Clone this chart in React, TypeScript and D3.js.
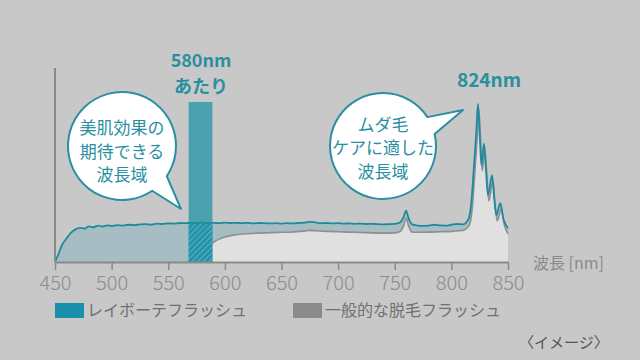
import React, {useEffect, useRef} from 'react'
import * as d3 from 'd3'

// teal line (レイボーテフラッシュ) — wavelength / relative intensity
const tealNm = [
  450, 453, 456, 460, 464, 468, 472, 476, 480, 484, 488, 492, 496, 500, 505, 510, 515, 520, 525, 530,
  535, 540, 545, 550, 555, 560, 565, 570, 575, 580, 585, 590, 595, 600, 605, 610, 615, 620, 625, 630,
  635, 640, 645, 650, 655, 660, 665, 670, 675, 680, 685, 690, 695, 700, 705, 710, 715, 720, 725, 730,
  735, 740, 745, 750, 755, 758, 760, 762, 765, 770, 775, 780, 785, 790, 795, 800, 805, 810, 815, 817.5,
  820, 822, 823.5, 825, 826.5, 828.8, 830.5, 832.3, 835.9, 837.8, 839.7, 843.2, 846, 850,
]
const tealVal = [
  0, 4, 8.5, 12, 15, 16.8, 17.6, 17.2, 18.4, 17.9, 18.8, 18.3, 18.9, 18.6, 19.0, 18.8, 19.2, 19.0, 19.4, 19.5,
  19.3, 19.8, 19.6, 19.9, 19.8, 20.1, 20.0, 20.2, 20.0, 20.3, 20.1, 20.2, 20.0, 20.3, 20.1, 20.2, 20.0, 20.2, 19.9, 20.1,
  20.0, 19.9, 20.0, 19.8, 20.0, 19.9, 20.1, 20.3, 20.7, 20.4, 20.0, 20.1, 19.9, 20.0, 19.8, 19.9, 19.7, 19.8, 19.6, 19.7,
  19.5, 19.4, 19.5, 19.6, 20.5, 23.5, 26.5, 23, 19.5, 18.8, 18.6, 18.7, 19.2, 18.9, 18.7, 19.2, 19.6, 19.4, 22, 30,
  50, 67, 81.5, 66, 50, 61, 48, 34.5, 44.8, 33, 24.2, 30.3, 22, 17.5,
]

// gray line (一般的な脱毛フラッシュ)
const grayNm = [
  575, 578, 582, 586, 590, 595, 600, 605, 610, 620, 630, 640, 650, 660, 670, 675, 680, 690, 700, 710,
  720, 730, 740, 750, 755, 758, 760, 762, 765, 770, 780, 790, 800, 810, 815.8, 818.3, 820.8, 822.8, 824.3, 825.8,
  827.3, 829.6, 831.3, 833.1, 836.7, 838.6, 840.5, 844, 846.8, 850,
]
const grayVal = [
  0, 3.2, 6.3, 8.6, 10.2, 11.8, 12.9, 13.6, 14.1, 14.6, 14.9, 15.1, 15.3, 15.5, 15.9, 16.3, 16.1, 15.8, 15.6, 15.4,
  15.2, 15.0, 14.9, 15.0, 15.8, 19, 22.5, 19, 15.5, 15.3, 15.4, 15.6, 15.8, 16.2, 19, 27, 47, 64, 78.5, 63,
  47, 58, 45, 31.5, 41.8, 30, 21.2, 27.3, 19, 14.5,
]

const xTicks = [450, 500, 550, 600, 650, 700, 750, 800, 850]
const band = [568, 589]
const legendLabels = ['レイボーテフラッシュ', '一般的な脱毛フラッシュ']

const FONT = '"Noto Sans CJK JP", "Noto Sans", sans-serif'
const TEAL = '#2a8fa1'

export default function App() {
  const ref = useRef<SVGSVGElement>(null)

  useEffect(() => {
    const svg = d3.select(ref.current)
    svg.selectAll('*').remove()

    const x = d3.scaleLinear().domain([450, 850]).range([55, 508])
    const y = d3.scaleLinear().domain([0, 100]).range([262, 68])

    const teal = tealNm.map((n, i) => [n, tealVal[i]] as [number, number])
    const gray = grayNm.map((n, i) => [n, grayVal[i]] as [number, number])

    const area = d3
      .area<[number, number]>()
      .x((d) => x(d[0]))
      .y0(y(0))
      .y1((d) => y(d[1]))
      .curve(d3.curveMonotoneX)
    const line = d3
      .line<[number, number]>()
      .x((d) => x(d[0]))
      .y((d) => y(d[1]))
      .curve(d3.curveMonotoneX)

    svg.append('rect').attr('width', 640).attr('height', 360).attr('fill', '#c8c8c8')

    const defs = svg.append('defs')
    defs.append('clipPath').attr('id', 'tealClip').append('path').attr('d', area(teal))
    const pat = defs
      .append('pattern')
      .attr('id', 'hatch')
      .attr('patternUnits', 'userSpaceOnUse')
      .attr('width', 4)
      .attr('height', 4)
      .attr('patternTransform', 'rotate(45)')
    pat.append('rect').attr('width', 4).attr('height', 4).attr('fill', '#2191a8')
    pat.append('rect').attr('width', 1.2).attr('height', 4).attr('fill', '#5aaebe')

    // areas
    svg.append('path').attr('d', area(teal)).attr('fill', '#a6bdc3')
    svg.append('path').attr('d', area(gray)).attr('fill', '#e0e0e0')
    svg.append('path').attr('d', line(gray)).attr('fill', 'none').attr('stroke', '#8f8f8f').attr('stroke-width', 1.6)

    // 580nm band
    const bandRect = () =>
      svg
        .append('rect')
        .attr('x', x(band[0]))
        .attr('width', x(band[1]) - x(band[0]))
        .attr('y', 102)
        .attr('height', y(0) - 102)
    bandRect().attr('fill', '#4ba1b0')
    bandRect().attr('fill', 'url(#hatch)').attr('clip-path', 'url(#tealClip)')

    svg.append('path').attr('d', line(teal)).attr('fill', 'none').attr('stroke', '#1f8a9e').attr('stroke-width', 1.8)

    // axes
    const axis = svg
      .append('g')
      .attr('transform', `translate(0,${y(0)})`)
      .call(d3.axisBottom(x).tickValues(xTicks).tickSize(8).tickSizeOuter(0).tickPadding(6).tickFormat(d3.format('d')))
    axis.select('.domain').attr('stroke', '#8a8a8a').attr('stroke-width', 2)
    axis.selectAll('.tick line').attr('stroke', '#8a8a8a').attr('stroke-width', 1.5)
    axis
      .selectAll('.tick text')
      .attr('fill', '#8c8c8c')
      .style('font-family', FONT)
      .style('font-size', '20px')
      .style('font-weight', 300)
    svg.append('line').attr('x1', x(450)).attr('x2', x(450)).attr('y1', 68).attr('y2', y(0)).attr('stroke', '#8a8a8a').attr('stroke-width', 2)

    svg
      .append('text')
      .attr('x', 533)
      .attr('y', 269)
      .attr('fill', '#8a8a8a')
      .style('font-family', FONT)
      .style('font-size', '16px')
      .text('波長 [nm]')

    // multi-line text helper
    const multi = (tx: number, ys: number[], lines: string[], size: number, weight: number) => {
      const t = svg
        .append('text')
        .attr('text-anchor', 'middle')
        .attr('fill', TEAL)
        .style('font-family', FONT)
        .style('font-size', `${size}px`)
        .style('font-weight', weight)
      lines.forEach((s, i) => {
        t.append('tspan').attr('x', tx).attr('y', ys[i]).text(s)
      })
    }

    // peak labels
    multi(201, [67, 93], ['580nm', 'あたり'], 18, 700)
    multi(489, [87], ['824nm'], 19, 700)

    // speech bubbles
    const bubble = (cx: number, cy: number, r: number, a: number, g: number, tip: [number, number], lines: string[], ys: number[]) => {
      const p = d3.path()
      const rad = Math.PI / 180
      p.moveTo(cx + r * Math.cos((a + g) * rad), cy + r * Math.sin((a + g) * rad))
      p.arc(cx, cy, r, (a + g) * rad, (a - g + 360) * rad)
      p.lineTo(tip[0], tip[1])
      p.closePath()
      svg.append('path').attr('d', p.toString()).attr('fill', '#ffffff').attr('stroke', TEAL).attr('stroke-width', 2).attr('stroke-linejoin', 'round')
      multi(cx, ys, lines, 17, 400)
    }
    bubble(122, 146, 54, 45, 11, [181, 209], ['美肌効果の', '期待できる', '波長域'], [134, 158, 181])
    bubble(383, 146, 53, -23, 10, [463, 110], ['ムダ毛', 'ケアに適した', '波長域'], [131, 154, 178])

    // legend
    const lg = svg.append('g')
    ;[
      {x: 55, fill: '#1a8fac'},
      {x: 293, fill: '#8b8b8b'},
    ].forEach((d, i) => {
      lg.append('rect').attr('x', d.x).attr('y', 303).attr('width', 29).attr('height', 15).attr('fill', d.fill)
      lg.append('text')
        .attr('x', d.x + 32)
        .attr('y', 316)
        .attr('fill', '#707070')
        .style('font-family', FONT)
        .style('font-size', '16px')
        .text(legendLabels[i])
    })

    svg
      .append('text')
      .attr('x', 519)
      .attr('y', 348)
      .attr('fill', '#555555')
      .style('font-family', FONT)
      .style('font-size', '15px')
      .text('〈イメージ〉')
  }, [])

  return (
    <div style={{position: 'absolute', left: 0, top: 0}}>
      <svg ref={ref} width={640} height={360} style={{display: 'block'}} />
    </div>
  )
}
